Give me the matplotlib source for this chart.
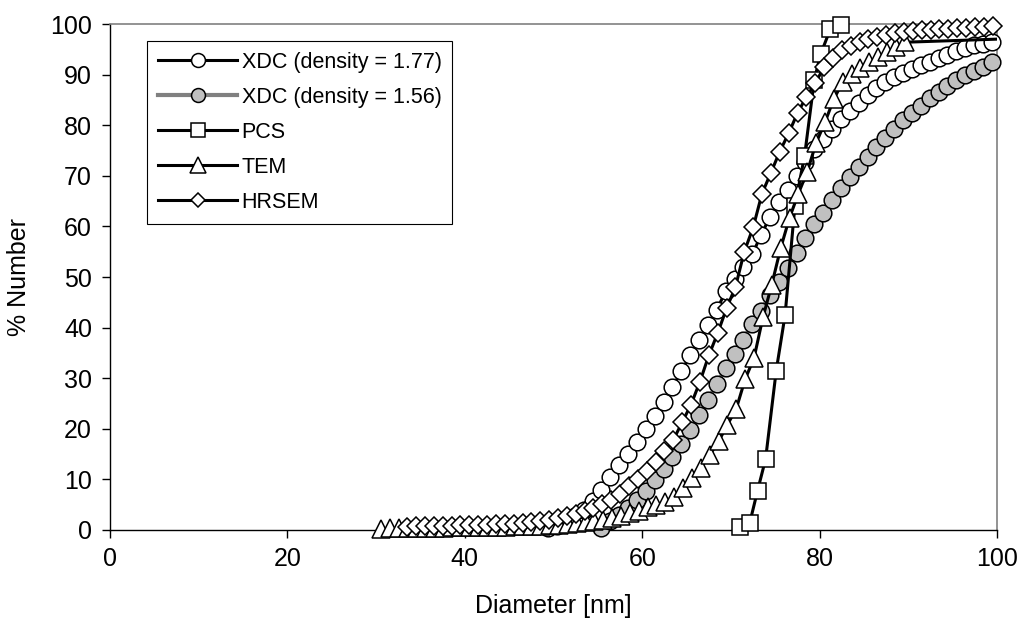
import numpy as np
import matplotlib
matplotlib.use("Agg")
import matplotlib.pyplot as plt
from matplotlib.lines import Line2D

plt.rcParams['font.family'] = ['Liberation Sans', 'DejaVu Sans']

# XDC, density 1.77 (white circles)
xdc177_x = [49.4, 50.4, 51.4, 52.4, 53.4, 54.4, 55.4, 56.4, 57.4, 58.4, 59.4, 60.4,
            61.4, 62.4, 63.4, 64.4, 65.4, 66.4, 67.4, 68.4, 69.4, 70.4, 71.4, 72.4,
            73.4, 74.4, 75.4, 76.4, 77.4, 78.4, 79.4, 80.4, 81.4, 82.4, 83.4, 84.4,
            85.4, 86.4, 87.4, 88.4, 89.4, 90.4, 91.4, 92.4, 93.4, 94.4, 95.4, 96.4,
            97.4, 98.4, 99.4, 100.4]
xdc177_y = [0.3, 0.7, 1.5, 2.7, 4.0, 5.8, 8.0, 10.5, 12.8, 15.0, 17.4, 20.0,
            22.6, 25.2, 28.2, 31.4, 34.5, 37.5, 40.5, 43.5, 47.2, 49.6, 52.0, 54.5,
            58.3, 61.9, 64.8, 67.2, 70.0, 72.8, 75.3, 77.2, 79.2, 81.2, 82.9, 84.3,
            85.9, 87.3, 88.5, 89.5, 90.4, 91.2, 91.9, 92.5, 93.2, 93.9, 94.7, 95.3,
            95.8, 96.1, 96.4, 96.7]

# XDC, density 1.56 (grey circles)
xdc156_x = [55.4, 56.4, 57.4, 58.4, 59.4, 60.4, 61.4, 62.4, 63.4, 64.4, 65.4, 66.4,
            67.4, 68.4, 69.4, 70.4, 71.4, 72.4, 73.4, 74.4, 75.4, 76.4, 77.4, 78.4,
            79.4, 80.4, 81.4, 82.4, 83.4, 84.4, 85.4, 86.4, 87.4, 88.4, 89.4, 90.4,
            91.4, 92.4, 93.4, 94.4, 95.4, 96.4, 97.4, 98.4, 99.4, 100.4]
xdc156_y = [0.4, 1.8, 3.0, 4.4, 6.0, 7.8, 9.8, 12.0, 14.4, 17.0, 19.8, 22.7,
            25.7, 28.8, 32.0, 34.8, 37.6, 40.8, 43.3, 46.5, 49.0, 51.8, 54.7, 57.7,
            60.5, 62.7, 65.2, 67.5, 69.7, 71.7, 73.7, 75.7, 77.4, 79.3, 81.0, 82.5,
            83.8, 85.3, 86.5, 87.8, 88.9, 89.9, 90.8, 91.6, 92.5, 93.3]

# PCS (squares)
pcs_x = [71.0, 72.1, 73.0, 73.9, 75.1, 76.1, 77.2, 78.3, 79.4, 80.1, 81.2, 82.4]
pcs_y = [0.5, 1.3, 7.8, 14.0, 31.5, 42.5, 64.0, 74.0, 89.0, 94.0, 99.0, 99.8]

# TEM (triangles)
tem_x = [30.6, 31.6, 32.6, 33.6, 34.6, 35.6, 36.6, 37.6, 38.6, 39.6, 40.6, 41.6,
         42.6, 43.6, 44.6, 45.6, 46.6, 47.6, 48.6, 49.6, 50.6, 51.6, 52.6, 53.6,
         54.6, 55.6, 56.6, 57.6, 58.6, 59.6, 60.6, 61.6, 62.6, 63.6, 64.6, 65.6,
         66.6, 67.6, 68.6, 69.6, 70.6, 71.6, 72.6, 73.6, 74.6, 75.6, 76.6, 77.6,
         78.6, 79.6, 80.6, 81.6, 82.6, 83.6, 84.6, 85.6, 86.6, 87.6, 88.6, 89.6,
         110.0]
tem_y = [0.2, 0.3, 0.3, 0.3, 0.4, 0.4, 0.4, 0.4, 0.5, 0.5, 0.5, 0.5,
         0.6, 0.6, 0.6, 0.7, 0.7, 0.8, 0.8, 0.9, 1.0, 1.1, 1.3, 1.5,
         1.7, 2.0, 2.4, 2.8, 3.3, 3.8, 4.5, 5.0, 5.5, 6.5, 8.2, 10.2,
         12.3, 14.8, 17.5, 20.8, 24.0, 29.8, 34.0, 42.0, 48.5, 55.7, 61.7, 66.5,
         70.8, 76.5, 80.6, 85.2, 88.5, 90.2, 91.4, 92.5, 93.5, 94.5, 95.5, 96.4,
         97.6]

# HRSEM (diamonds)
hrsem_x = [33.5, 34.5, 35.5, 36.5, 37.5, 38.5, 39.5, 40.5, 41.5, 42.5, 43.5, 44.5,
           45.5, 46.5, 47.5, 48.5, 49.5, 50.5, 51.5, 52.5, 53.5, 54.5, 55.5, 56.5,
           57.5, 58.5, 59.5, 60.5, 61.5, 62.5, 63.5, 64.5, 65.5, 66.5, 67.5, 68.5,
           69.5, 70.5, 71.5, 72.5, 73.5, 74.5, 75.5, 76.5, 77.5, 78.5, 79.5, 80.5,
           81.5, 82.5, 83.5, 84.5, 85.5, 86.5, 87.5, 88.5, 89.5, 90.5, 91.5, 92.5,
           93.5, 94.5, 95.5, 96.5, 97.5, 98.5, 99.5]
hrsem_y = [0.6, 0.7, 0.7, 0.8, 0.8, 0.8, 0.9, 0.9, 1.0, 1.0, 1.1, 1.1,
           1.2, 1.3, 1.5, 1.7, 2.0, 2.3, 2.7, 3.2, 3.7, 4.4, 5.1, 6.0,
           7.2, 8.6, 10.1, 11.7, 13.5, 15.6, 17.8, 21.3, 24.8, 29.3, 34.5, 38.9,
           43.8, 48.0, 55.0, 59.8, 66.5, 70.6, 74.8, 78.4, 82.4, 85.6, 88.3, 91.5,
           93.2, 94.8, 95.7, 96.4, 97.1, 97.5, 97.9, 98.2, 98.5, 98.7, 98.8, 98.9,
           99.0, 99.1, 99.2, 99.3, 99.4, 99.5, 99.7]

labels = ["XDC (density = 1.77)", "XDC (density = 1.56)", "PCS", "TEM", "HRSEM"]

# x, y, marker, size on plot, size in legend, face, line colour, line width
series = [
    (xdc177_x, xdc177_y, 'o', 12, 10, 'white', 'black', 2.2),
    (xdc156_x, xdc156_y, 'o', 12, 10, '#c0c0c0', '#808080', 3.0),
    (pcs_x, pcs_y, 's', 11.5, 10, 'white', 'black', 2.2),
    (tem_x, tem_y, '^', 12.5, 11, 'white', 'black', 2.2),
    (hrsem_x, hrsem_y, 'D', 8.8, 7.5, 'white', 'black', 2.2),
]

fig = plt.figure(figsize=(10.19, 6.19), dpi=100)
ax = fig.add_axes([0.108, 0.1438, 0.8705, 0.8174])

handles = []
for i, (xs, ys, mk, ms, lms, fc, lc, lw) in enumerate(series):
    xs = np.array(xs)
    ys = np.array(ys)
    z = 3 + i
    # line is clipped to the plot area, markers are not (like Excel)
    ax.plot(xs, ys, color=lc, lw=lw, zorder=z, solid_joinstyle='round')
    keep = xs <= 100
    ax.plot(xs[keep], ys[keep], linestyle='none', marker=mk, ms=ms,
            mfc=fc, mec='black', mew=1.1, zorder=z + 0.5, clip_on=False)
    handles.append(Line2D([], [], color=lc, lw=lw, marker=mk, ms=lms,
                          mfc=fc, mec='black', mew=1.1))

ax.set_xlim(0, 100)
ax.set_ylim(0, 100)
ax.set_xticks(range(0, 101, 20))
ax.set_yticks(range(0, 101, 10))
ax.tick_params(direction='out', length=6, width=1, labelsize=18, color='black')
ax.tick_params(axis='x', pad=6)
ax.tick_params(axis='y', pad=7)

for s in ['top', 'right']:
    ax.spines[s].set_color('#808080')
    ax.spines[s].set_linewidth(1.2)
for s in ['left', 'bottom']:
    ax.spines[s].set_color('black')
    ax.spines[s].set_linewidth(1)

ax.set_xlabel("Diameter [nm]", fontsize=18, labelpad=17)
ax.set_ylabel("% Number", fontsize=18, labelpad=14)

leg = ax.legend(handles, labels, loc='upper left', bbox_to_anchor=(0.0416, 0.966),
                borderaxespad=0, fontsize=15.5, handlelength=3.7, handletextpad=0.2,
                labelspacing=0.65, borderpad=0.5, fancybox=False, framealpha=1,
                edgecolor='black')
leg.get_frame().set_linewidth(0.8)
leg.set_zorder(20)

fig.savefig("out.png", dpi=100)
